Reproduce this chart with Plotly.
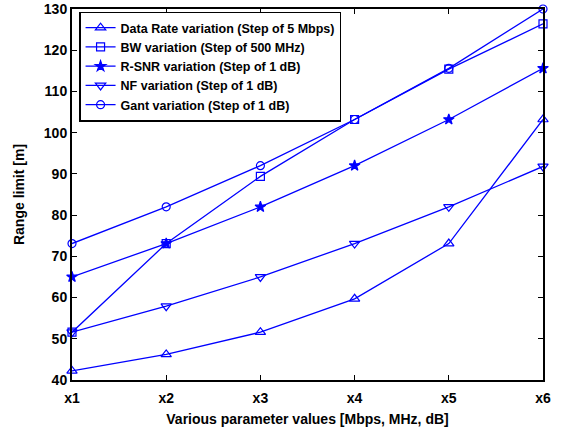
import plotly.graph_objects as go

x_labels = ["x1", "x2", "x3", "x4", "x5", "x6"]
x_pos = [1, 2, 3, 4, 5, 6]

data_rate = [42.2, 46.2, 51.6, 59.7, 73.1, 103.2]
bw = [51.6, 73.1, 89.4, 103.2, 115.4, 126.4]
r_snr = [65.0, 73.1, 82.0, 92.0, 103.2, 115.6]
nf = [51.6, 57.9, 65.0, 73.1, 82.0, 91.8]
gant = [73.1, 82.0, 92.0, 103.2, 115.6, 130.0]

series = [
    ("Data Rate variation (Step of 5 Mbps)", data_rate, "triangle-up-open", 9),
    ("BW variation (Step of 500 MHz)", bw, "square-open", 8),
    ("R-SNR variation (Step of 1 dB)", r_snr, "star", 8),
    ("NF variation (Step of 1 dB)", nf, "triangle-down-open", 9),
    ("Gant variation (Step of 1 dB)", gant, "circle-open", 8),
]

BLUE = "#0000ff"
fig = go.Figure()
for name, ys, sym, sz in series:
    fig.add_trace(go.Scatter(
        x=x_pos, y=ys, name=name, mode="lines+markers",
        line=dict(color=BLUE, width=1.3),
        marker=dict(symbol=sym, size=sz, color=BLUE, line=dict(color=BLUE, width=1.2)),
        cliponaxis=False,
    ))

font_family = "Liberation Sans, Arial, sans-serif"
axis_common = dict(
    showline=True, linecolor="black", linewidth=2, mirror="ticks",
    ticks="inside", ticklen=5, tickcolor="black", tickwidth=1,
    showgrid=False, zeroline=False, automargin=False,
    tickfont=dict(family=font_family, size=14, color="black", weight="bold"),
)

fig.update_layout(
    width=563, height=427,
    margin=dict(l=72, r=20, t=9, b=47),
    paper_bgcolor="white", plot_bgcolor="white",
    font=dict(family=font_family, color="black"),
    xaxis=dict(
        range=[1, 6], tickvals=x_pos, ticktext=x_labels, ticklabelstandoff=4,
        title=dict(text="<b>Various parameter values [Mbps, MHz, dB]</b>",
                   font=dict(size=14, family=font_family), standoff=13),
        **axis_common,
    ),
    yaxis=dict(
        range=[40, 130], dtick=10,
        title=dict(text="<b>Range limit [m]</b>",
                   font=dict(size=14, family=font_family), standoff=16),
        **axis_common,
    ),
    legend=dict(
        x=0.015, y=0.993, xanchor="left", yanchor="top",
        bgcolor="white", bordercolor="black", borderwidth=1.5,
        font=dict(family=font_family, size=12.5, color="black", weight="bold"),
        tracegroupgap=0, itemwidth=30,
    ),
    showlegend=True,
)

fig.write_html("out.html", config={"displayModeBar": False},
               post_script="document.body.style.margin='0';")
